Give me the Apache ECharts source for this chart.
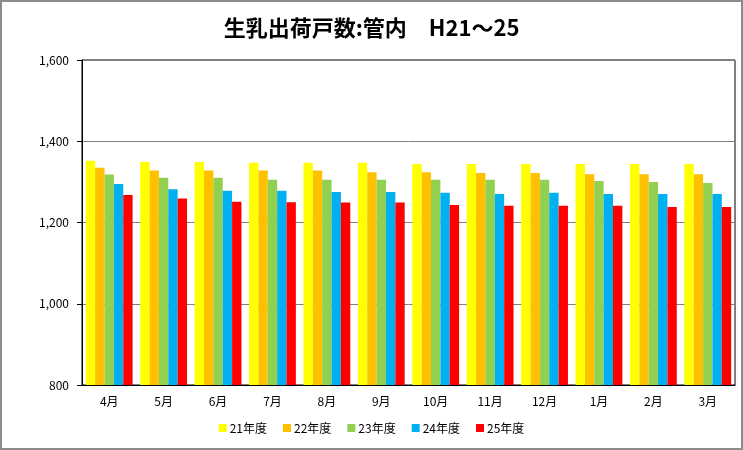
<!DOCTYPE html>
<html>
<head>
<meta charset="utf-8">
<script src="https://cdn.jsdelivr.net/npm/echarts@6/dist/echarts.min.js"></script>
<style>
  html, body { margin: 0; padding: 0; background: #fff; }
  #chart { width: 743px; height: 450px; }
</style>
</head>
<body>
<div id="chart"></div>
<script>
// 月
const months = ['4月', '5月', '6月', '7月', '8月', '9月', '10月', '11月', '12月', '1月', '2月', '3月']
// 年度ごとの出荷戸数
const h21 = [1352, 1349, 1349, 1347, 1347, 1347, 1344, 1344, 1344, 1344, 1344, 1344]
const h22 = [1335, 1328, 1328, 1328, 1328, 1324, 1324, 1322, 1322, 1319, 1319, 1319]
const h23 = [1318, 1310, 1310, 1305, 1305, 1305, 1305, 1305, 1305, 1302, 1300, 1297]
const h24 = [1295, 1282, 1278, 1278, 1275, 1275, 1273, 1270, 1273, 1270, 1270, 1270]
const h25 = [1268, 1259, 1251, 1250, 1249, 1249, 1243, 1241, 1241, 1241, 1238, 1238]
const seriesNames = ['21年度', '22年度', '23年度', '24年度', '25年度']
const colors = ['#ffff00', '#ffc000', '#92d050', '#00b0f0', '#ff0000']

const font = '"Noto Sans CJK JP", "Noto Sans", sans-serif'
const chart = echarts.init(document.getElementById('chart'))

const option = {
  animation: false,
  textStyle: { fontFamily: font },
  title: {
    text: '生乳出荷戸数:管内\u3000H21～25',
    left: 'center',
    top: 12,
    textStyle: { fontSize: 22, fontWeight: 'bold', color: '#000', fontFamily: font }
  },
  graphic: [{
    type: 'rect',
    shape: { x: 1, y: 1, width: 741, height: 448 },
    style: { fill: 'none', stroke: '#8c8c8c', lineWidth: 2 },
    silent: true
  }],
  legend: {
    bottom: 11,
    left: 'center',
    itemWidth: 8,
    itemHeight: 8,
    itemGap: 16,
    icon: 'rect',
    textStyle: { fontSize: 12, color: '#000', padding: [0, 0, 0, -2] },
    data: seriesNames
  },
  grid: {
    left: 82,
    right: 8,
    top: 60,
    bottom: 65,
    show: true,
    borderColor: '#000',
    borderWidth: 1
  },
  xAxis: {
    type: 'category',
    data: months,
    axisLine: { lineStyle: { color: '#000' } },
    axisTick: { show: false },
    axisLabel: { color: '#000', fontSize: 12, margin: 10 }
  },
  yAxis: {
    type: 'value',
    min: 800,
    max: 1600,
    interval: 200,
    axisLine: { show: true, lineStyle: { color: '#000' } },
    axisTick: { show: true, length: 5, lineStyle: { color: '#000' } },
    axisLabel: {
      color: '#000',
      fontSize: 12,
      margin: 13,
      formatter: function (v) { return v.toLocaleString('en-US') }
    },
    splitLine: { show: true, lineStyle: { color: '#7f7f7f', width: 1 } }
  },
  series: [h21, h22, h23, h24, h25].map(function (d, i) {
    return {
      name: seriesNames[i],
      type: 'bar',
      data: d,
      barGap: '0%',
      barCategoryGap: '14%',
      itemStyle: { color: colors[i] }
    }
  })
}
chart.setOption(option)
window.addEventListener('resize', () => {
  chart.resize()
})
</script>
</body>
</html>
